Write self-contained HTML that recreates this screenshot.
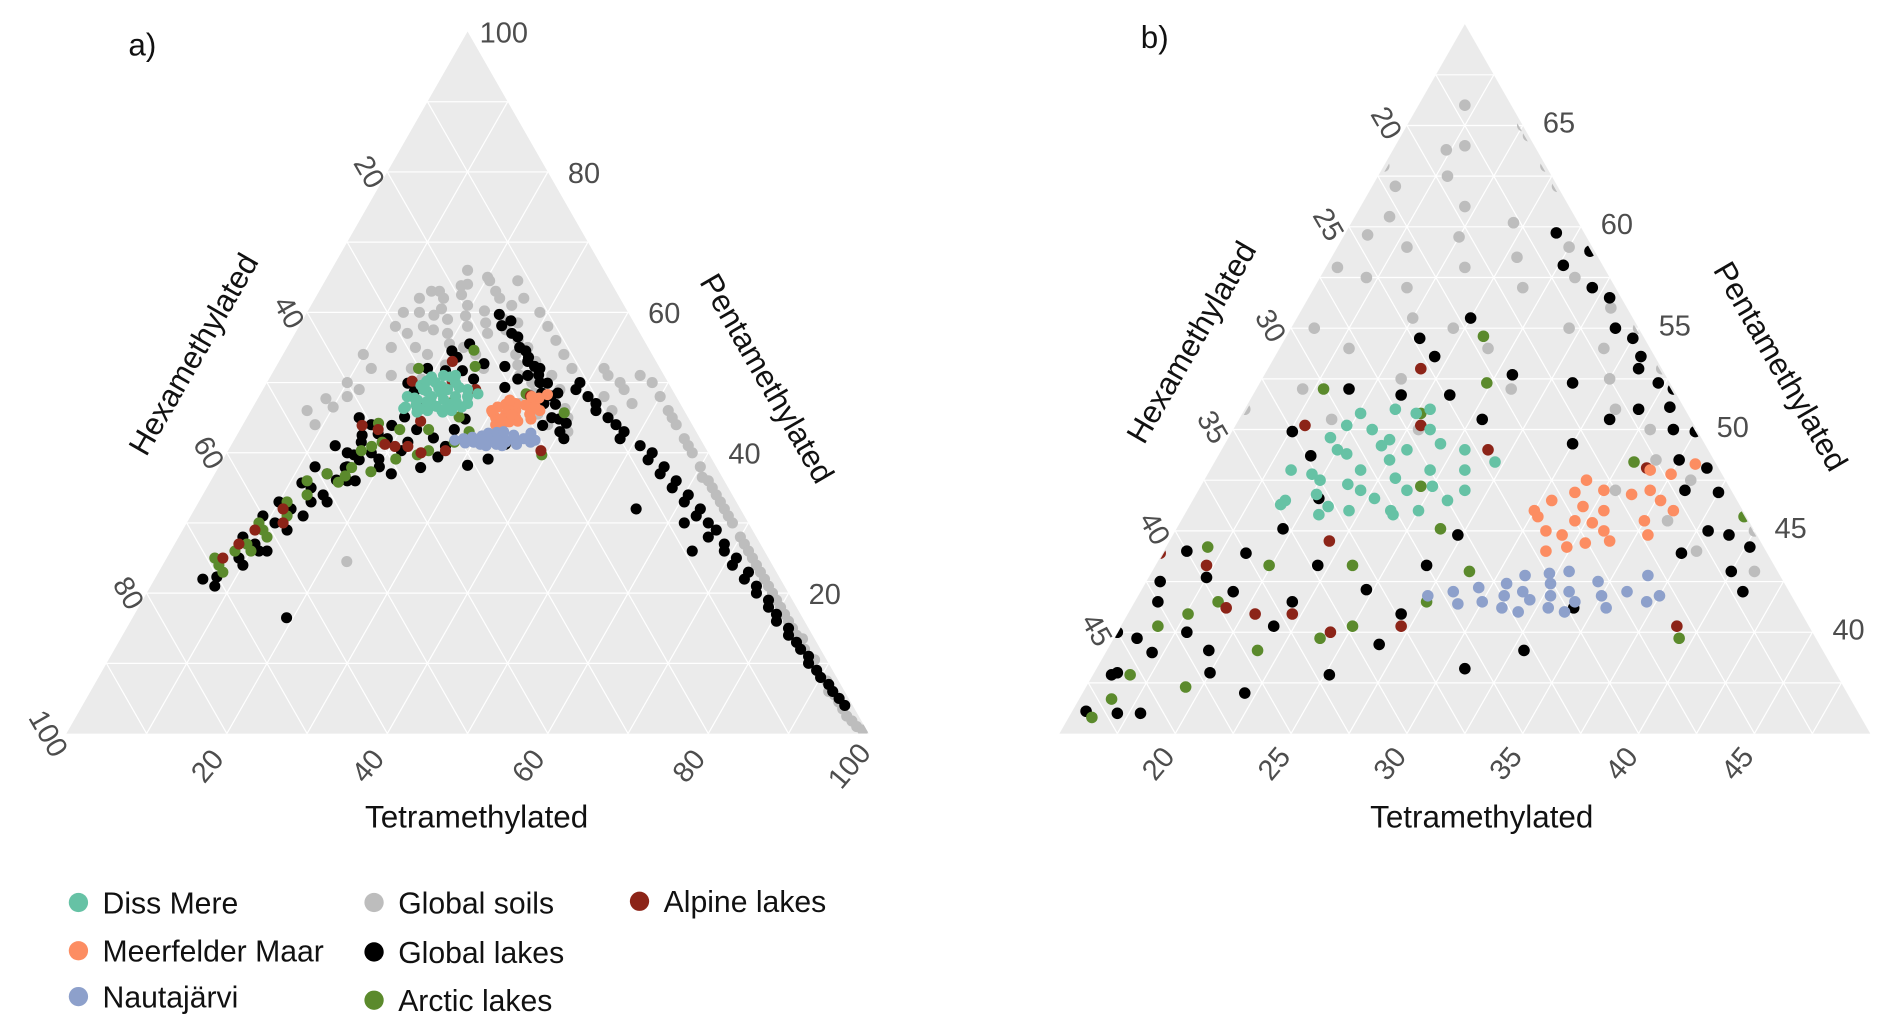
<!DOCTYPE html>
<html><head><meta charset="utf-8">
<style>
html,body{margin:0;padding:0;background:#fff;overflow:hidden;width:1892px;height:1034px;}
svg{display:block;font-family:"Liberation Sans",Arial,sans-serif;}
.tk{fill:#4d4d4d;font-size:24px;}
.tt{fill:#111;font-size:26px;}
.lg{fill:#111;font-size:25px;}
</style></head>
<body>
<svg id="chart" width="1892" height="1034" viewBox="0 0 1568 857" preserveAspectRatio="none" overflow="hidden" xmlns="http://www.w3.org/2000/svg">
<defs><clipPath id="clipB"><polygon points="878,608 1550,608 1214,27"/></clipPath><clipPath id="clipA"><polygon points="55,608 720,608 387.5,25"/></clipPath></defs>
<g id="panelA"></g>
<g id="panelB"></g>
<g>
<text class="tt" x="118" y="46" text-anchor="middle">a)</text>
<text class="tt" x="395" y="686" text-anchor="middle">Tetramethylated</text>
<text class="tt" transform="translate(168,298) rotate(-60)" text-anchor="middle">Hexamethylated</text>
<text class="tt" transform="translate(628,318) rotate(60)" text-anchor="middle">Pentamethylated</text>
<text class="tt" x="957" y="40" text-anchor="middle">b)</text>
<text class="tt" x="1228" y="686" text-anchor="middle">Tetramethylated</text>
<text class="tt" transform="translate(995,288) rotate(-60)" text-anchor="middle">Hexamethylated</text>
<text class="tt" transform="translate(1468,308) rotate(60)" text-anchor="middle">Pentamethylated</text>
</g>
<g id="legend"></g>
</svg>
<script>
const seriesNames=["Global soils","Global lakes","Arctic lakes","Alpine lakes","Diss Mere","Meerfelder Maar","Nautajärvi"];
const seriesColors=["#bdbdbd","#000000","#5b8a2c","#8c2418","#66c2a5","#fc8d62","#8da0cb"];
// [tetramethylated, pentamethylated]; hexamethylated = 100 - t - p
const globalSoils=[[17.3,63.8],[16,62],[18,62.5],[19.5,61],[16.5,60.5],[16,59.6],[18,59],[20,59.5],[22,60.2],[21,58],[23,58.5],[17,57.5],[19,57],[24,57],[25,59],[26,57.5],[28.3,56],[27,55],[20,55.5],[22,55],[18,54],[16,55],[24,54],[29,54],[30,52.5],[26,52],[21,52.5],[17,52],[19,50.5],[23,50],[31,51],[33,50],[34,48.5],[36,47.5],[37,49],[39,46.3],[40,45],[38,44],[41,43],[36,45.5],[20.5,64.5],[15.5,58],[25,61],[23,62],[27,58.5],[30,55],[32,53],[35,51],[33,47],[15,63],[18,64],[22,63],[26,62],[29,60],[31,58],[33,56],[35,54],[37,52],[12,60],[14,63],[20,65],[24,64.5],[44,50],[42,51],[45,49],[47,47],[41,52],[46,51],[48,50],[50,48],[52,46],[54,44],[56,42],[58,40],[60,38],[62,36],[63,35],[65,33],[66,32],[68,30],[70,28],[71,27],[73,25],[74,24],[76,22],[77,21],[79,19],[80,18],[82,16],[83,15],[85,13.5],[86,12],[88,10.5],[89,9],[91,7.5],[92,6],[94,4.5],[95,3.5],[96,2.5],[97,1.8],[98,1],[99,0.5],[64,34],[67,31],[72,26],[78,20],[84,14],[87,11],[90,8],[93,5.5],[61,36.5],[57,41],[53,45],[75,23],[81,17],[43,48],[45,46],[8.5,47.7],[10,50],[12,52],[13,55],[14,57],[11,48],[9,44],[22.7,24.5],[12,58],[14,60],[13,62],[17,66],[10,54],[15,51],[7,46],[10,46.5],[12,49]];
const globalLakes=[[7.6,22.3],[9,25],[10,27],[8,28],[11,30],[12,32],[10,33],[13,35],[11.5,35.7],[14,37],[12,38],[15,40],[13,41],[15.6,42.5],[16,44],[14,45],[17,39],[18,36],[16,33],[20,38],[19,42],[12,26],[9,31],[6,22],[8,21],[10,24],[11,26],[13,29],[14,31],[15,34],[17,36],[18,40],[16,38],[14,33],[19.2,16.5],[24.1,59.7],[25.2,58.1],[22.5,55.5],[21.9,53.6],[25.7,52.7],[28.5,52.3],[30.8,53.6],[32.2,52.3],[33.3,51.1],[35,49.9],[36.4,48.1],[40.2,44.2],[37.5,46.9],[30,49.3],[31,50.5],[25.5,50.5],[23.5,51.7],[21.4,51.7],[19,52],[19,48.7],[19.6,45.1],[18.6,43.9],[17.5,42.7],[16,41.5],[16,39.7],[15.8,37.9],[15.6,36.1],[22,43.3],[24.7,42.1],[26.6,39.4],[21.6,40.3],[19.4,39.1],[22,37],[26.8,40.9],[26.7,43.3],[30.9,38.2],[33,39.1],[27.3,44.8],[37.4,43.9],[34.1,41.2],[20.4,46.6],[17.6,49.9],[25.2,37.9],[21.8,41.5],[20.8,54.5],[27,57],[28,56.5],[29,55],[31,53],[32,51],[34,50],[35,48.5],[36,47],[38,45],[40,43],[41,42],[30,54.5],[26,58.8],[33,52],[37,48.5],[39,44.8],[45,45],[46.5,44],[48,43],[48,42],[51,41],[53,40],[53,39],[55.5,38],[55.5,37],[58,36],[58,35],[60.5,34],[60.5,33],[63,32],[63,31],[65,30],[66.5,29],[66,28],[68.5,27],[69,26],[71,25],[71,24],[73.5,23],[73.5,22],[75.5,21],[76,20],[78,19],[78.5,18],[80,17],[80.5,16],[82.5,15],[83,14],[84.5,13],[85.5,12],[87,11],[87.5,10],[89,9],[90,8],[91.5,7],[92.5,6],[93.8,5],[95,4],[62,30],[65,26],[55,32],[41,48],[42.5,47],[43,46],[39,50],[39,49]];
const arcticLakes=[[6,25],[7,24],[8,26],[9,27],[10,29],[11,28],[9,30],[12,31],[11,33],[13,34],[8,23],[10,26],[14,37],[12,36],[23.5,54.6],[17.9,52],[22.7,50.8],[24.5,47.2],[26.4,45.1],[28.7,43],[33.1,48.4],[39.4,39.7],[39.2,45.7],[27.6,41.5],[23.5,43.3],[19.9,43.3],[18.6,41.5],[17.6,40.9],[16.6,40.3],[16.6,37.9],[16.4,36.7],[16,35.8],[21.5,39.1],[19.3,37.3],[16.8,44.2],[23.9,39.7],[25,40.3],[24.8,52.3]];
const alpineLakes=[[18,50.2],[23,50.2],[21.6,53],[21.9,44.5],[17.2,43.3],[22.1,40.9],[24.2,40],[27.1,40.3],[39,40.3],[20.5,40.9],[19.1,41.2],[26.5,49],[14.9,43.9],[33.8,48.1],[7,25],[9,29],[8,27],[11,32],[12,30]];
const dissMere=[[19.4,49.6],[20.1,50.8],[21,50],[22,49.5],[20.5,48.8],[21.5,48],[22.5,48.5],[23,49],[23.8,46],[22,47],[20,47.5],[19,46.5],[18.9,46.3],[19.5,47.8],[21,46.2],[24,47],[24.5,48],[25,47.2],[26,48],[27.1,48.4],[26.5,47],[25.5,49],[23.5,50],[22.5,50.8],[21.5,51],[20,49],[24,45.8],[22.8,46.6],[20.8,45.8],[21.8,49.2],[23.2,47.6],[19.8,50.2],[25,46],[26,46.5],[22,46],[18.5,48],[20.2,46.8],[23,51],[24.3,49.3],[21.3,47.3]];
const meerfelderMaar=[[30.3,45.7],[31.3,46.9],[32.3,44.2],[35,47.8],[35.5,44.8],[31,45],[32,45.5],[33,46],[32.5,47],[31.8,44.8],[30.5,46.5],[33.5,45],[34,44.5],[35,45.5],[34.5,47],[36,46],[35.8,48.3],[31.5,44],[32,46.2],[33,44.4],[30,46],[34,48],[32.8,45.4],[31.5,47.5],[35.2,46.5],[33.8,46.8]];
const nautajarvi=[[27.5,41.8],[28.5,42],[29.5,42.2],[30.6,42.4],[31,41.2],[31.5,42],[32,41.6],[32.5,42.4],[33,41.2],[33.5,42],[30,41.5],[31.2,42.8],[32.2,42.9],[34,41.5],[35,41.8],[36,42],[37.1,41.5],[36.5,42.8],[35.5,41.2],[34.5,42.5],[33,43],[29,41.4],[31.8,41],[32.8,41.8],[30.8,41.8],[37.5,41.8],[33.8,41]];
const allSeries=[globalSoils,globalLakes,arcticLakes,alpineLakes,dissMere,meerfelderMaar,nautajarvi];
const ticksA=["20","40","60","80","100"];
const ticksBTetra=["20","25","30","35","40","45"];
const ticksBPenta=["40","45","50","55","60","65"];
const ticksBHexa=["20","25","30","35","40","45"];

const NS="http://www.w3.org/2000/svg";
function mk(tag,attrs,parent){const e=document.createElementNS(NS,tag);for(const k in attrs)e.setAttribute(k,attrs[k]);parent.appendChild(e);return e;}
function makeProj(x0,y0,t0,p0,sx){const sy=sx*0.875;return (t,p)=>[x0+((t-t0)+(p-p0)/2)*sx,y0-(p-p0)*sy];}
const projA=makeProj(55,608,0,0,6.65);
const projB=makeProj(878,608,15,35,19.2);

function drawPanel(g,proj,t0,p0,h0,step,clip,r){
  const S=100-t0-p0-h0;
  const A=proj(t0,p0),B=proj(t0+S,p0),C=proj(t0,p0+S);
  const bg=mk('polygon',{points:[A,B,C].map(q=>q.join(',')).join(' '),fill:'#ebebeb'},g);
  
  
  const grid=mk('g',{stroke:'#ffffff','stroke-width':1},g);
  
  
  for(let c=step;c<S-0.01;c+=step){
    const tc=t0+c,pc=p0+c,hc=h0+c;
    const l=[[proj(tc,p0),proj(tc,100-tc-h0)],[proj(t0,pc),proj(100-pc-h0,pc)],[proj(t0,100-hc-t0),proj(100-hc-p0,p0)]];
    l.forEach(s=>mk('line',{x1:s[0][0],y1:s[0][1],x2:s[1][0],y2:s[1][1]},grid));
  }
  const pts=mk('g',{'clip-path':'url(#'+clip+')'},g);
  
  
  allSeries.forEach((arr,i)=>{
    const sg=mk('g',{fill:seriesColors[i]},pts);
    
    
    arr.forEach(d=>{const q=proj(d[0],d[1]);const c=mk('circle',{cx:q[0].toFixed(1),cy:q[1].toFixed(1),r:r},sg);
      
      });
  });
}
drawPanel(document.getElementById('panelA'),projA,0,0,0,10,'clipA',4.6);
drawPanel(document.getElementById('panelB'),projB,15,35,15,2.5,'clipB',4.8);

function txt(g,s,x,y,rot,name){const e=mk('text',{class:'tk','text-anchor':'middle',transform:`translate(${x},${y}) rotate(${rot})`},g);e.textContent=s;
  
  }
const gA=document.getElementById('panelA');
ticksA.forEach(s=>{const v=+s;
  let q=projA(v,0);txt(gA,s,q[0]-10,q[1]+32,-50,'a-tetra-tick');
  q=projA(100-v,v);txt(gA,s,q[0]+30,q[1]+9,0,'a-penta-tick');
  q=projA(0,100-v);txt(gA,s,q[0]-22,q[1]+4,60,'a-hexa-tick');
});
const gB=document.getElementById('panelB');
ticksBTetra.forEach(s=>{const q=projB(+s,35);txt(gB,s,q[0]-8,q[1]+30,-50,'b-tetra-tick');});
ticksBPenta.forEach(s=>{const v=+s;const q=projB(100-15-v,v);txt(gB,s,q[0]+30,q[1]+6,0,'b-penta-tick');});
ticksBHexa.forEach(s=>{const v=+s;const q=projB(15,100-15-v);txt(gB,s,q[0]-24,q[1]+2,60,'b-hexa-tick');});

const leg=document.getElementById('legend');
const legPos=[[310,750],[310,791],[310,831],[530,749],[65,750],[65,790],[65,828]];
seriesNames.forEach((n,i)=>{
  const g=mk('g',{},leg);
  
  
  mk('circle',{cx:legPos[i][0],cy:legPos[i][1]-2,r:8,fill:seriesColors[i]},g);
  const t=mk('text',{class:'lg',x:legPos[i][0]+20,y:legPos[i][1]+7},g);t.textContent=n;
});
</script>
</body></html>
